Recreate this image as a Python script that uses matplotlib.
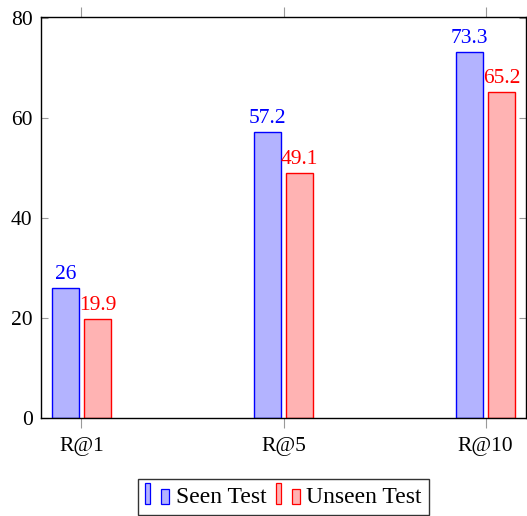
import matplotlib
matplotlib.use("Agg")
from matplotlib import pyplot as plt
from matplotlib.patches import Rectangle, Patch
from matplotlib.legend_handler import HandlerBase
import numpy as np

plt.rcParams['font.family'] = ['Liberation Serif', 'DejaVu Serif']

categories = ["R@1", "R@5", "R@10"]
seen = [26, 57.2, 73.3]
unseen = [19.9, 49.1, 65.2]
seen_labels = ["26", "57.2", "73.3"]
unseen_labels = ["19.9", "49.1", "65.2"]

blue_fill = "#b3b3ff"
red_fill = "#ffb3b3"
fs = 15.5


class BarPairHandler(HandlerBase):
    # pgfplots-style ybar legend image: two small bars
    def create_artists(self, legend, orig_handle, xdescent, ydescent,
                       width, height, fontsize, trans):
        fc = orig_handle.get_facecolor()
        ec = orig_handle.get_edgecolor()
        x0 = -xdescent
        y0 = -ydescent - 0.1 * height
        r1 = Rectangle((x0, y0), 0.22 * width, 1.3 * height,
                       facecolor=fc, edgecolor=ec, lw=0.9, transform=trans)
        r2 = Rectangle((x0 + 0.64 * width, y0), 0.34 * width, 0.95 * height,
                       facecolor=fc, edgecolor=ec, lw=0.9, transform=trans)
        return [r1, r2]


fig = plt.figure(figsize=(5.27, 5.16), dpi=100)
ax = fig.add_axes([41 / 527, 1 - 418 / 516, 485 / 527, 401 / 516])

x = np.arange(len(categories))
w = 0.134
off = 0.079
ax.bar(x - off, seen, w, color=blue_fill, edgecolor="blue", linewidth=1)
ax.bar(x + off, unseen, w, color=red_fill, edgecolor="red", linewidth=1)

for i in range(len(categories)):
    ax.annotate(seen_labels[i], (x[i] - off, seen[i]), xytext=(0, 6.5),
                textcoords="offset points", ha="center", va="baseline",
                color="blue", fontsize=fs)
    ax.annotate(unseen_labels[i], (x[i] + off, unseen[i]), xytext=(0, 6.5),
                textcoords="offset points", ha="center", va="baseline",
                color="red", fontsize=fs)

ax.set_xlim(-0.2, 2.2)
ax.set_ylim(0, 80.3)
ax.set_xticks(x)
ax.set_xticklabels(categories)
ax.set_yticks([0, 20, 40, 60, 80])

ax.tick_params(axis="x", direction="out", length=7, width=0.8, color="0.6",
               top=True, labelsize=fs, pad=7)
ax.tick_params(axis="y", direction="in", length=5, width=0.8, color="0.6",
               right=True, labelsize=fs, pad=6)
for s in ax.spines.values():
    s.set_linewidth(1)

handles = [Patch(facecolor=blue_fill, edgecolor="blue"),
           Patch(facecolor=red_fill, edgecolor="red")]
leg = ax.legend(handles, ["Seen Test", "Unseen Test"], loc="upper center",
                bbox_to_anchor=(0.5, -0.152), ncol=2, fontsize=17,
                frameon=True, fancybox=False, edgecolor="black",
                handler_map={Patch: BarPairHandler()},
                handlelength=1.05, handletextpad=0.25, columnspacing=0.4,
                borderpad=0.3, borderaxespad=0)
leg.get_frame().set_linewidth(1)

plt.savefig("out.png", dpi=100)
